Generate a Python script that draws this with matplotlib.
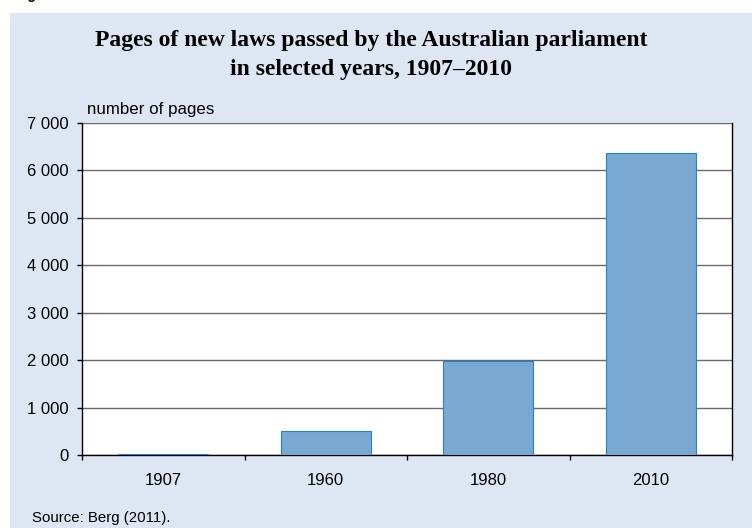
import matplotlib.pyplot as plt
import matplotlib.patches as mpatches
import matplotlib.ticker as mticker
import numpy as np

# data
years = ["1907", "1960", "1980", "2010"]
pages = [25, 500, 1990, 6360]
y_ticks = [0, 1000, 2000, 3000, 4000, 5000, 6000, 7000]

plt.rcParams['font.family'] = ['Liberation Sans', 'DejaVu Sans']

fig = plt.figure(figsize=(7.52, 5.28), dpi=100)
fig.patch.set_facecolor('white')

# light blue panel behind everything (page is white above it)
panel = mpatches.Rectangle((10/752, 0), 1 - 10/752, 1 - 13/528, transform=fig.transFigure,
                           facecolor='#dfe6f3', edgecolor='none', zorder=-5)
fig.patches.append(panel)

# cut-off caption from the page above
fig.text(0.02, 1 + 1/528, "Figure", fontsize=10, fontweight='bold', va='baseline', ha='left')

ax = fig.add_axes([82/752, 1 - 455/528, 650/752, 332/528])
ax.set_zorder(2)
ax.set_facecolor('white')

x = np.arange(len(years))
ax.bar(x, pages, width=0.555, color='#78a9d3', edgecolor='#2a80c8', linewidth=0.8, zorder=3)

ax.set_xlim(-0.5, len(years) - 0.5)
ax.set_ylim(0, 7000)

ax.set_yticks(y_ticks)
ax.yaxis.set_major_formatter(mticker.FuncFormatter(lambda v, p: f"{int(v):,}".replace(",", " ")))
ax.yaxis.grid(True, color='#6a6a6a', linewidth=1.0, zorder=1)
ax.set_axisbelow(True)

ax.set_xticks(x)
ax.set_xticklabels(years)
ax.set_xticks(np.arange(-0.5, len(years)), minor=True)
ax.tick_params(axis='x', which='major', length=0, pad=13, labelsize=12)
ax.tick_params(axis='x', which='minor', length=3.5, width=1, direction='out', color='black')
ax.tick_params(axis='y', length=3.6, width=1, direction='out', pad=6, labelsize=12)

for s in ['left', 'bottom', 'right']:
    ax.spines[s].set_color('black')
    ax.spines[s].set_linewidth(1.0)
ax.spines['top'].set_visible(False)

fig.text(87/752, 1 - 114/528, "number of pages", fontsize=12.2, va='baseline', ha='left')

serif = ['Liberation Serif', 'DejaVu Serif']
fig.text(0.494, 1 - 46/528, "Pages of new laws passed by the Australian parliament",
         fontsize=17, fontweight='bold', family=serif, ha='center', va='baseline')
fig.text(0.494, 1 - 75/528, "in selected years, 1907\u20132010",
         fontsize=17, fontweight='bold', family=serif, ha='center', va='baseline')

fig.text(32/752, 1 - 522/528, "Source: Berg (2011).", fontsize=10.8, va='baseline', ha='left')

fig.savefig("out.png", dpi=100, facecolor=fig.get_facecolor())
